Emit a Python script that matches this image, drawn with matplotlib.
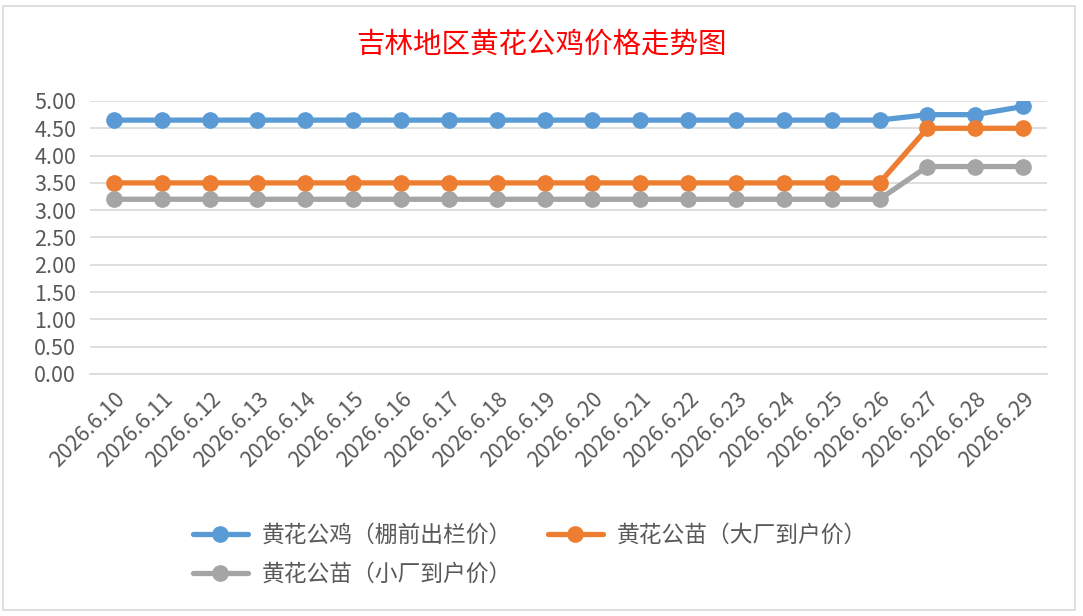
import numpy as np
import matplotlib.pyplot as plt
import matplotlib
from matplotlib.patches import Rectangle

plt.rcParams['font.family'] = ['Noto Sans CJK SC', 'DejaVu Sans']

dates = ['2026.6.10', '2026.6.11', '2026.6.12', '2026.6.13', '2026.6.14',
         '2026.6.15', '2026.6.16', '2026.6.17', '2026.6.18', '2026.6.19',
         '2026.6.20', '2026.6.21', '2026.6.22', '2026.6.23', '2026.6.24',
         '2026.6.25', '2026.6.26', '2026.6.27', '2026.6.28', '2026.6.29']
rooster = [4.65] * 17 + [4.75, 4.75, 4.90]
chick_big = [3.50] * 17 + [4.50, 4.50, 4.50]
chick_small = [3.20] * 17 + [3.80, 3.80, 3.80]

names = ['黄花公鸡（棚前出栏价）', '黄花公苗（大厂到户价）', '黄花公苗（小厂到户价）']
colors = ['#5b9bd5', '#ed7d31', '#a5a5a5']

fig = plt.figure(figsize=(10.83, 6.16), dpi=100)
fig.patch.set_facecolor('white')

# chart border
fig.add_artist(Rectangle((3 / 1083, 6 / 616), 1072 / 1083, 604 / 616,
                         transform=fig.transFigure, fill=False,
                         edgecolor='#d9d9d9', lw=1.2))

ax = fig.add_axes([90 / 1083, 1 - 374 / 616, 957 / 1083, 273 / 616])
x = np.arange(len(dates))
lines = []
for ys, c, n in zip([rooster, chick_big, chick_small], colors, names):
    l, = ax.plot(x, ys, color=c, lw=3.8, marker='o', markersize=11,
                 label=n, solid_capstyle='round')
    lines.append(l)

ax.set_xlim(-0.5, len(dates) - 0.5)
ax.set_ylim(0, 5)
ax.set_yticks(np.arange(0, 5.01, 0.5))
ax.set_yticklabels(['%.2f' % v for v in np.arange(0, 5.01, 0.5)])
ax.set_xticks(x)
ax.set_xticklabels(dates, rotation=45, ha='right', va='top',
                   rotation_mode='anchor')
ax.tick_params(length=0, labelsize=15.5, colors='#595959')
ax.tick_params(axis='x', pad=10)
ax.tick_params(axis='y', pad=10)
ax.grid(axis='y', color='#d9d9d9', lw=1.2)
ax.set_axisbelow(True)
for s in ['top', 'right', 'left']:
    ax.spines[s].set_visible(False)
ax.spines['bottom'].set_color('#d9d9d9')
ax.spines['bottom'].set_linewidth(1.2)
ax.spines['bottom'].set_zorder(0)

fig.text(0.5, 1 - 45 / 616, '吉林地区黄花公鸡价格走势图', color='red',
         fontsize=20.5, ha='center', va='center')

# column-major fill: blue, gray in col 1; orange in col 2
leg = fig.legend(handles=[lines[0], lines[2], lines[1]], loc='upper left',
                 ncol=2, bbox_to_anchor=(184 / 1083, 1 - 515 / 616),
                 frameon=False, fontsize=16.4, handlelength=2.4,
                 handletextpad=0.6, columnspacing=1.6, labelspacing=0.68,
                 borderaxespad=0)
for t in leg.get_texts():
    t.set_color('#595959')

plt.savefig('out.png', dpi=100)
